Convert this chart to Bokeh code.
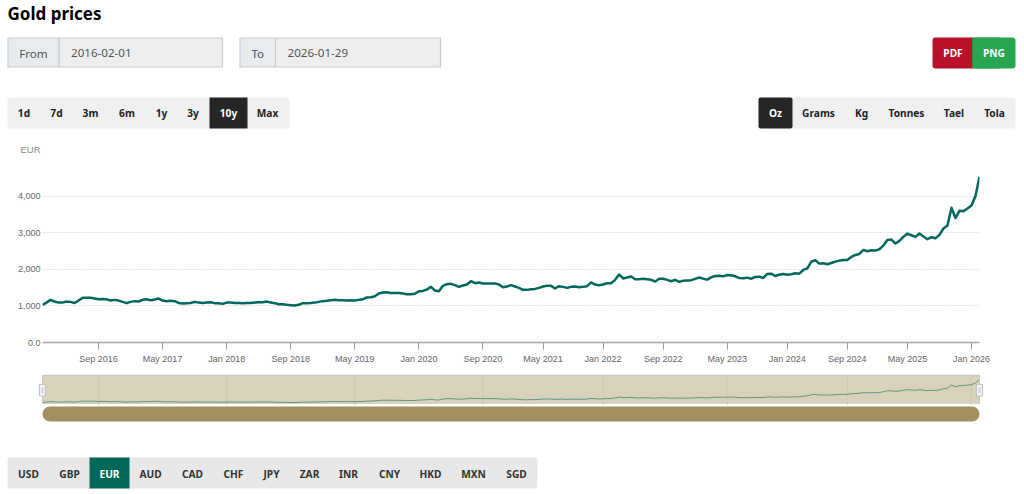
import numpy as np
import pandas as pd
from bokeh.core.properties import value
from bokeh.embed import file_html
from bokeh.models import FixedTicker, Range1d
from bokeh.plotting import figure
from bokeh.resources import INLINE

# ---- data ----------------------------------------------------------------
title_text = "Gold prices"
date_from = "2016-02-01"
date_to = "2026-01-29"

tick_labels = ["Sep 2016", "May 2017", "Jan 2018", "Sep 2018", "May 2019", "Jan 2020",
               "Sep 2020", "May 2021", "Jan 2022", "Sep 2022", "May 2023", "Jan 2024",
               "Sep 2024", "May 2025", "Jan 2026"]
# the chart's time axis is ordinal: number of price samples before each labelled month
samples_before_tick = [14, 30, 46, 62, 78, 94, 110, 125, 140, 155, 171, 186, 201, 216, 232]

price_2016_2019 = [
    1027, 1090, 1165, 1120, 1090, 1090, 1120, 1110, 1080, 1145, 1220, 1220, 1220, 1200, 1180, 1190,
    1180, 1145, 1165, 1145, 1110, 1075, 1110, 1130, 1120, 1165, 1180, 1155, 1175, 1200, 1145, 1130,
    1140, 1130, 1080, 1065, 1075, 1080, 1110, 1090, 1080, 1090, 1100, 1075, 1075, 1055, 1090, 1090,
    1080, 1080, 1075, 1080, 1080, 1090, 1100, 1100, 1120, 1090, 1075, 1045, 1045, 1030, 1020, 1010,
    1030, 1075, 1075, 1080, 1090, 1110, 1130, 1140, 1155, 1165, 1155, 1155, 1145, 1155, 1145, 1165,
    1180, 1230]
price_2019_2023 = [
    1237, 1265, 1338, 1365, 1375, 1355, 1355, 1355, 1338, 1320, 1320, 1330, 1400, 1410, 1447, 1520,
    1420, 1400, 1548, 1593, 1602, 1566, 1520, 1557, 1584, 1675, 1621, 1640, 1612, 1612, 1612, 1612,
    1584, 1511, 1530, 1566, 1530, 1493, 1438, 1438, 1456, 1465, 1493, 1530, 1548, 1548, 1475, 1539,
    1520, 1493, 1520, 1530, 1511, 1520, 1539, 1640, 1584, 1566, 1584, 1621, 1621, 1712, 1858, 1749,
    1776, 1803, 1730, 1730, 1740, 1730, 1712, 1666, 1740, 1740, 1712, 1675, 1712, 1657, 1685, 1694,
    1703, 1740, 1776]
price_2023_2026 = [
    1744, 1717, 1781, 1817, 1826, 1808, 1845, 1836, 1808, 1763, 1753, 1772, 1744, 1790, 1799, 1763,
    1872, 1881, 1817, 1854, 1872, 1854, 1863, 1890, 1881, 1982, 2027, 2210, 2247, 2155, 2164, 2137,
    2173, 2210, 2237, 2256, 2256, 2338, 2393, 2420, 2530, 2493, 2520, 2511, 2548, 2648, 2803, 2812,
    2703, 2776, 2886, 2977, 2931, 2886, 2977, 2895, 2822, 2876, 2849, 2940, 3114, 3196, 3680, 3400,
    3598, 3589, 3662, 3744, 4000, 4530]

y_ticks = [0, 1000, 2000, 3000, 4000, 5000]
y_labels = ["0.0", "1,000", "2,000", "3,000", "4,000", ""]
y_title = "EUR"

range_buttons = ["1d", "7d", "3m", "6m", "1y", "3y", "10y", "Max"]
unit_buttons = ["Oz", "Grams", "Kg", "Tonnes", "Tael", "Tola"]
currency_buttons = ["USD", "GBP", "EUR", "AUD", "CAD", "CHF", "JPY", "ZAR", "INR", "CNY", "HKD", "MXN", "SGD"]

price = price_2016_2019 + price_2019_2023 + price_2023_2026
sample = list(range(len(price)))

# ---- styles --------------------------------------------------------------
WIDTH = 1022
LEFT, RIGHT = 43, 980          # page pixels of the plot frame
SHIFT = 1                      # the figures sit one pixel in from the page corner
GREEN = "#00695c"
UI_FONT = "Noto Sans"
AXIS_FONT = "Liberation Sans"


def chrome(y_top, y_bottom):
    """A figure whose data space is the page's own pixels."""
    f = figure(width=WIDTH, height=y_bottom - y_top, x_range=Range1d(SHIFT, SHIFT + WIDTH),
               y_range=Range1d(y_bottom + SHIFT, y_top + SHIFT), output_backend="svg",
               toolbar_location=None, min_border=0, outline_line_color=None,
               background_fill_color="white", border_fill_color="white", tools="")
    f.axis.visible = False
    f.grid.visible = False
    return f


def box(f, x0, x1, y0, y1, color, line=None, radius=0):
    r = f.quad(left=x0, right=x1, top=y0, bottom=y1, fill_color=color,
               line_color=line, line_width=1.2 if line else 0)
    if radius:
        r.glyph.border_radius = radius
    return r


def txt(f, x, y, s, color="#222222", size="10.2px", bold=True, font=UI_FONT, align="center"):
    f.text(x=[x], y=[y], text=[s], text_color=color, text_font=value(font), text_font_size=size,
           text_font_style="bold" if bold else "normal", text_align=align, text_baseline="middle")


# ---- top strip -----------------------------------------------------------
top = chrome(0, 155)
txt(top, 8, 14, title_text, color="#000000", size="17px", align="left")

for x0, xd, x1, lab, val, lab_col in [(8.5, 59.5, 223, "From", date_from, "#555555"),
                                      (240.5, 276, 441, "To", date_to, "#34506e")]:
    box(top, x0, xd, 38.5, 67.5, "#e9ecef", line="#cccccc")
    box(top, xd, x1, 38.5, 67.5, "#eeeeee", line="#cccccc")
    txt(top, (x0 + xd) / 2, 53.5, lab, color=lab_col, size="11.6px", bold=False)
    txt(top, xd + 12, 53.5, val, color="#555555", size="11.6px", bold=False, align="left")

box(top, 933, 976, 38, 69, "#b91129", radius=3)
box(top, 973, 1016, 38, 69, "#28a550", radius=3)
box(top, 973, 1000, 38, 69, "#28a550")
txt(top, 953.5, 53.5, "PDF", color="#ffffff")
txt(top, 994.5, 53.5, "PNG", color="#ffffff")

box(top, 8, 290, 98, 129, "#f0f0f0", radius=3)
box(top, 210, 248, 98, 129, "#262626")
for lab, cx in zip(range_buttons, [24.5, 57, 91, 127.5, 162, 193.5, 229, 268]):
    txt(top, cx, 113.5, lab, color="#ffffff" if lab == "10y" else "#222222")

box(top, 759, 1016, 98, 129, "#f0f0f0", radius=3)
box(top, 759, 793, 98, 129, "#262626", radius=2)
for lab, cx in zip(unit_buttons, [776, 819, 862, 907, 954.5, 995]):
    txt(top, cx, 113.5, lab, color="#ffffff" if lab == "Oz" else "#222222")

txt(top, 41, 150, y_title, color="#8f8580", size="9.5px", bold=False, font=AXIS_FONT, align="right")

# ---- main chart ----------------------------------------------------------
n_last = len(price) - 1
main = figure(width=WIDTH, height=217, x_range=Range1d(0, n_last), y_range=Range1d(0, 5000),
              output_backend="svg", toolbar_location=None, tools="",
              min_border_left=LEFT - SHIFT, min_border_right=WIDTH + SHIFT - RIGHT,
              min_border_top=4, min_border_bottom=30, outline_line_color=None,
              background_fill_color="white", border_fill_color="white")
main.line(sample, price, line_color=GREEN, line_width=2.5, line_join="round")

main.xaxis.ticker = FixedTicker(ticks=samples_before_tick)
main.xaxis.major_label_overrides = dict(zip(samples_before_tick, tick_labels))
main.xaxis.axis_line_color = "#a8a8a8"
main.xaxis.axis_line_width = 1.5
main.xaxis.major_tick_line_color = "#999999"
main.xaxis.major_tick_in = 0
main.xaxis.major_tick_out = 7
main.xaxis.minor_tick_line_color = None
main.xaxis.major_label_standoff = 4
main.xaxis.major_label_text_font = AXIS_FONT
main.xaxis.major_label_text_font_size = "9px"
main.xaxis.major_label_text_color = "#666666"

main.yaxis.ticker = FixedTicker(ticks=y_ticks)
main.yaxis.major_label_overrides = dict(zip(y_ticks, y_labels))
main.yaxis.axis_line_color = None
main.yaxis.major_tick_line_color = None
main.yaxis.minor_tick_line_color = None
main.yaxis.major_tick_in = 0
main.yaxis.major_tick_out = 0
main.yaxis.major_label_standoff = 2
main.yaxis.major_label_text_font = AXIS_FONT
main.yaxis.major_label_text_font_size = "9px"
main.yaxis.major_label_text_color = "#666666"

main.xgrid.visible = False
main.ygrid.grid_line_color = "#e2e2e2"
main.ygrid.grid_line_dash = [2, 1]
main.ygrid.grid_line_width = 1

# ---- navigator -----------------------------------------------------------
nav = chrome(372, 425)
px_per_sample = (RIGHT - LEFT) / n_last
nav.extra_x_ranges = {"sample": Range1d(-(LEFT - SHIFT) / px_per_sample,
                                        n_last + (WIDTH + SHIFT - RIGHT) / px_per_sample)}
nav.extra_y_ranges = {"value": Range1d(-2480, 5586)}

box(nav, LEFT, RIGHT, 376, 404.5, "#d9d2bc")
for t in samples_before_tick[::2]:
    nav.line([t, t], [650, 4990], x_range_name="sample", y_range_name="value",
             line_color="#cfc8b4", line_width=1)
nav.line(sample, price, x_range_name="sample", y_range_name="value", line_color="#5f9a7c", line_width=1)
nav.line([LEFT, RIGHT], [376, 376], line_color="#c8c8c8", line_width=1.5)
nav.line([RIGHT, RIGHT], [376, 404.5], line_color="#c8c8c8", line_width=1)
nav.line([LEFT, LEFT], [376, 404.5], line_color="#c8c8c8", line_width=1)
for hx in (LEFT, RIGHT):
    box(nav, hx - 3, hx + 3, 385, 396.5, "#f4f4f4", line="#c4c4c4")
    box(nav, hx - 1, hx + 1, 388, 393.5, "#d0d0d0")
nav.line([LEFT + 7.5, RIGHT - 7.5], [414.5, 414.5], line_color="#a29060", line_width=15, line_cap="round")

# ---- currency strip ------------------------------------------------------
bottom = chrome(425, 489)
box(bottom, 8, 538, 458, 489, "#e8e8e8", radius=3)
box(bottom, 90, 130, 458, 489, "#00685a")
for lab, cx in zip(currency_buttons, [29, 70, 110, 151, 193, 234, 272, 310, 349, 390, 431, 474, 517]):
    txt(bottom, cx, 474, lab, color="#ffffff" if lab == "EUR" else "#333333")

open("out.html", "w").write(file_html([top, main, nav, bottom], INLINE))
